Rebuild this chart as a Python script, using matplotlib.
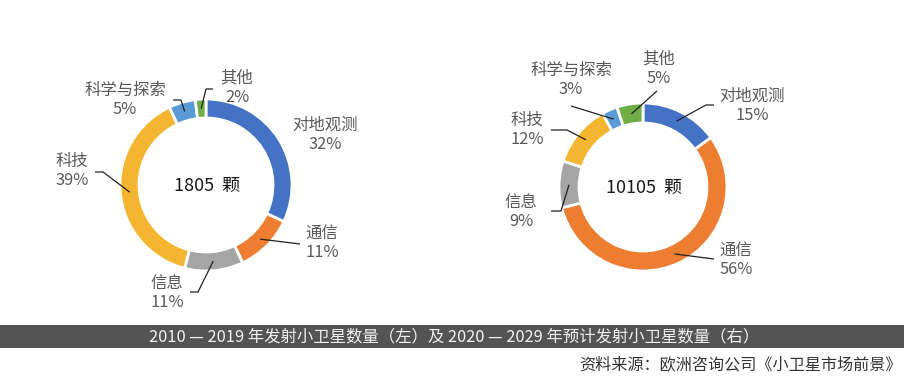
import matplotlib
matplotlib.use("Agg")
import matplotlib.pyplot as plt
import numpy as np

plt.rcParams['font.family'] = ['Noto Sans CJK SC', 'DejaVu Sans']

# data
categories = ["对地观测", "通信", "信息", "科技", "科学与探索", "其他"]
share_2010_2019 = [32, 11, 11, 39, 5, 2]
share_2020_2029 = [15, 56, 9, 12, 3, 5]
total_left = "1805  颗"
total_right = "10105  颗"
colors = ["#4472C4", "#ED7D31", "#A5A5A5", "#F4B631", "#5B9BD5", "#70AD47"]

caption = "2010 — 2019 年发射小卫星数量（左）及 2020 — 2029 年预计发射小卫星数量（右）"
source = "资料来源：欧洲咨询公司《小卫星市场前景》"

W, H = 908, 380
label_color = "#595959"


def Y(py):
    # pixel row (from top) -> axes y
    return H - py


fig = plt.figure(figsize=(W / 100, H / 100), dpi=100)
ax = fig.add_axes([0, 0, 1, 1])


def donut(values, cx, cy, r, width, total, labels):
    wedges, _ = ax.pie(values, colors=colors, startangle=90, counterclock=False,
                       radius=r, center=(cx, Y(cy)),
                       wedgeprops=dict(width=width, edgecolor="white", linewidth=2))
    ax.text(cx + 1, Y(cy + 1), total, ha="center", va="center", fontsize=13, color="#1a1a1a")
    for w, name, v, lab in zip(wedges, categories, values, labels):
        tx, ty, path = lab
        ax.text(tx, Y(ty), "{}\n{}%".format(name, v), ha="center", va="center",
                fontsize=11.8, color=label_color, linespacing=1.2)
        if path is None:
            continue
        mid = np.deg2rad((w.theta1 + w.theta2) / 2)
        rr = r - width / 2
        xs = [cx + rr * np.cos(mid)] + [p[0] for p in path]
        ys = [Y(cy) + rr * np.sin(mid)] + [Y(p[1]) for p in path]
        ax.plot(xs, ys, color="#222222", lw=0.9, solid_capstyle="butt")


# text position + leader elbow points (pixels)
left_labels = [
    (325, 135, None),
    (322, 243, [(300, 244)]),
    (167, 293, [(198, 292), (190, 292)]),
    (72, 171, [(103, 172), (95, 172)]),
    (125, 100, [(181, 100), (173, 100)]),
    (237, 88, [(206, 89), (213, 89)]),
]
right_labels = [
    (752, 106, [(706, 105), (714, 105)]),
    (736, 260, [(714, 259)]),
    (521, 212, [(561, 211), (551, 211)]),
    (527, 130, [(567, 130), (551, 130)]),
    (571, 80, [(571, 106)]),
    (659, 69, [(657, 91)]),
]

donut(share_2010_2019, 206, 185, 86, 19, total_left, left_labels)
donut(share_2020_2029, 643, 187, 84, 20, total_right, right_labels)

# caption bar
ax.add_patch(plt.Rectangle((0, Y(348)), 904, 23, color="#545454", lw=0))
ax.text(454, Y(337), caption, ha="center", va="center", fontsize=11.8, color="#f0f0f0")
ax.text(902, Y(365), source, ha="right", va="center", fontsize=11.6, color="#333333")

ax.set_xlim(0, W)
ax.set_ylim(0, H)
ax.set_aspect("auto")
ax.axis("off")

fig.savefig("out.png", dpi=100)
